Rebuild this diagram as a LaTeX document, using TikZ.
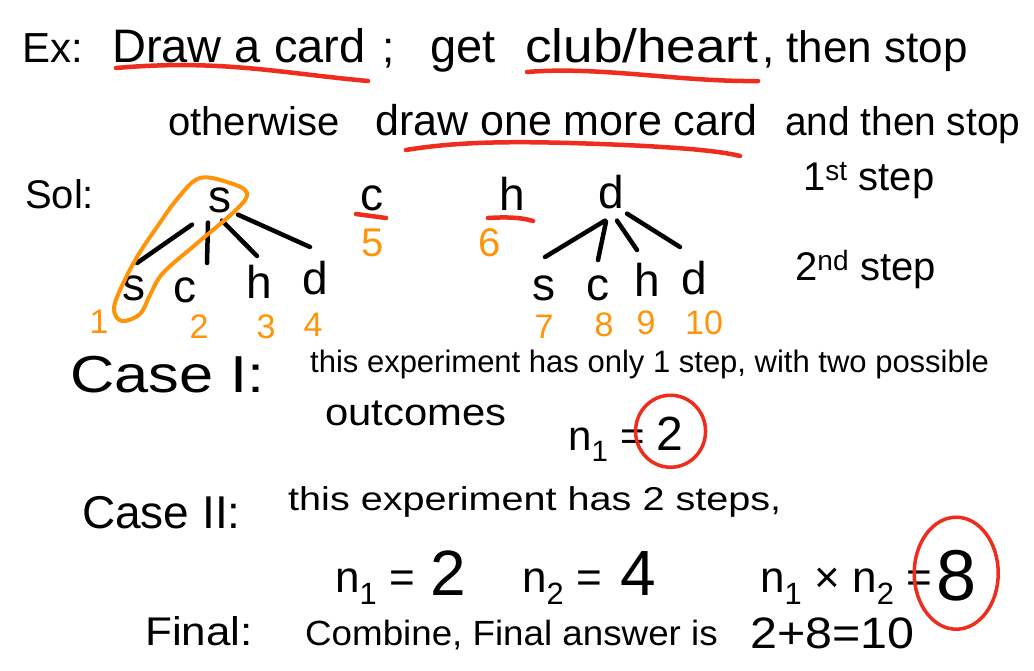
\documentclass[tikz,border=0pt]{standalone}
\usepackage{fontspec}
\usepackage{graphicx}
\setmainfont{Liberation Sans}
\definecolor{hred}{RGB}{238,45,30}
\definecolor{horange}{RGB}{255,148,10}
\newcommand\hstretch[2]{\scalebox{#1}[1]{#2}}
\begin{document}
\begin{tikzpicture}[x=1pt,y=-1pt,
  txt/.style={anchor=base west,inner sep=0pt,font=\fontsize{#1}{#1}\selectfont},
  txt/.default=44,
  lt/.style={anchor=base,inner sep=0pt,font=\fontsize{46}{46}\selectfont},
  num/.style={anchor=base,inner sep=0pt,text=horange,font=\fontsize{34}{34}\selectfont},
  branch/.style={line width=4.5pt,line cap=round},
  redline/.style={hred,line width=4.5pt,line cap=round},
  loop/.style={horange,line width=4pt},
  ring/.style={hred,line width=3.5pt}]
\useasboundingbox[fill=white] (0,0) rectangle (1034,670);
% line 1
\node[txt=42] (ex) at (22,62) {Ex:};
\node[txt=47] (draw1) at (112,62) {Draw a card};
\node[txt=44] (semi) at (382,62) {;};
\node[txt=47] (get) at (430,62) {get};
\node[txt=47] (club) at (525,62) {\hstretch{1.13}{club/heart}};
\node[txt=44] (then) at (762,62) {, then stop};
\draw[redline] (116,68) .. controls (220,59) and (280,73) .. (368,81);
\draw[redline] (527,72) .. controls (600,66) and (680,82) .. (758,81);
% line 2
\node[txt=40] (oth) at (168,135) {otherwise};
\node[txt=43] (draw2) at (375,135) {draw one more card};
\node[txt=40] (andthen) at (785,135) {\hstretch{0.97}{and then stop}};
\draw[redline] (406,150) .. controls (460,141) and (520,141) .. (600,144) .. controls (680,147) and (720,151) .. (740,156);
% Sol
\node[txt=40] (sol) at (25,208) {Sol:};
% first tree
\node[lt] (r1) at (220,212) {s};
\node[lt] (a1) at (134,300) {s};
\node[lt] (a2) at (185,302) {c};
\node[lt] (a3) at (259,298) {h};
\node[lt] (a4) at (315,294) {d};
\coordinate (e1) at (137,263);
\coordinate (e2) at (207,263);
\coordinate (e3) at (257,256);
\coordinate (e4) at (310,247);
\draw[branch] ([shift={(-28,12)}]r1.south) -- (e1);
\draw[branch] ([shift={(-12,10)}]r1.south) -- (e2);
\draw[branch] ([shift={(2,8)}]r1.south) -- (e3);
\draw[branch] ([shift={(18,2)}]r1.south) -- (e4);
\node[num] (n1) at (99,333) {1};
\node[num] (n2) at (199,338) {2};
\node[num] (n3) at (266,338) {3};
\node[num] (n4) at (313,336) {4};
\draw[loop] plot[smooth cycle,tension=0.6] coordinates {(200,178) (230,183) (247,193) (236,210) (195,245) (163,273) (150,295) (140,314) (122,321) (114,310) (120,290) (137,257) (157,227) (178,198)};
% c and h
\node[lt] (c1) at (372,210) {c};
\draw[redline] (356,214) -- (386,218);
\node[num,font=\fontsize{40}{40}\selectfont] (n5) at (373,256) {5};
\node[lt] (h1) at (512,210) {h};
\draw[redline] (488,218) .. controls (505,217) and (520,217) .. (533,221);
\node[num,font=\fontsize{40}{40}\selectfont] (n6) at (490,256) {6};
% second tree
\node[lt] (d1) at (611,208) {d};
\node[lt] (b1) at (544,300) {s};
\node[lt] (b2) at (598,300) {c};
\node[lt] (b3) at (647,296) {h};
\node[lt] (b4) at (694,294) {d};
\coordinate (f1) at (545,257);
\coordinate (f2) at (598,260);
\coordinate (f3) at (637,250);
\coordinate (f4) at (680,247);
\draw[branch] ([shift={(-6,12)}]d1.south) -- (f1);
\draw[branch] ([shift={(-5,13)}]d1.south) -- (f2);
\draw[branch] ([shift={(6,12)}]d1.south) -- (f3);
\draw[branch] ([shift={(16,5)}]d1.south) -- (f4);
\node[num] (n7) at (544,338) {7};
\node[num] (n8) at (604,336) {8};
\node[num] (n9) at (646,334) {9};
\node[num] (n10) at (704,334) {10};
% steps
\node[txt=40] (st1) at (803,190) {1\textsuperscript{st} step};
\node[txt=40] (st2) at (795,280) {2\textsuperscript{nd} step};
% Case I
\node[txt=52] (case1) at (70,392) {\hstretch{1.18}{Case I:}};
\node[txt=31] (c1t) at (310,372) {this experiment has only 1 step, with two possible};
\node[txt=38] (outc) at (325,425) {\hstretch{1.1}{outcomes}};
\node[txt=42] (eq1) at (568,450) {n\textsubscript{1} =};
\node[txt=48] (two1) at (656,450) {2};
\draw[ring] (two1.center) ++(1,-2) ellipse [x radius=35,y radius=36];
% Case II
\node[txt=46] (case2) at (82,528) {Case II:};
\node[txt=33] (c2t) at (288,510) {\hstretch{1.2}{this experiment has 2 steps,}};
\node[txt=44] (eq2) at (335,592) {n\textsubscript{1} =};
\node[txt=64] (two2) at (430,595) {2};
\node[txt=44] (eq3) at (522,592) {n\textsubscript{2} =};
\node[txt=64] (four) at (620,595) {4};
\node[txt=44] (eq4) at (760,592) {n\textsubscript{1} × n\textsubscript{2} =};
\node[txt=72] (eight) at (936,600) {8};
\draw[ring] (eight.center) ++(0,-2) ellipse [x radius=42,y radius=56];
% Final
\node[txt=40] (fin) at (145,645) {\hstretch{1.1}{Final:}};
\node[txt=35] (comb) at (305,645) {\hstretch{1.05}{Combine, Final answer is}};
\node[txt=44] (res) at (750,648) {\hstretch{1.1}{2+8=10}};
\end{tikzpicture}
\end{document}
